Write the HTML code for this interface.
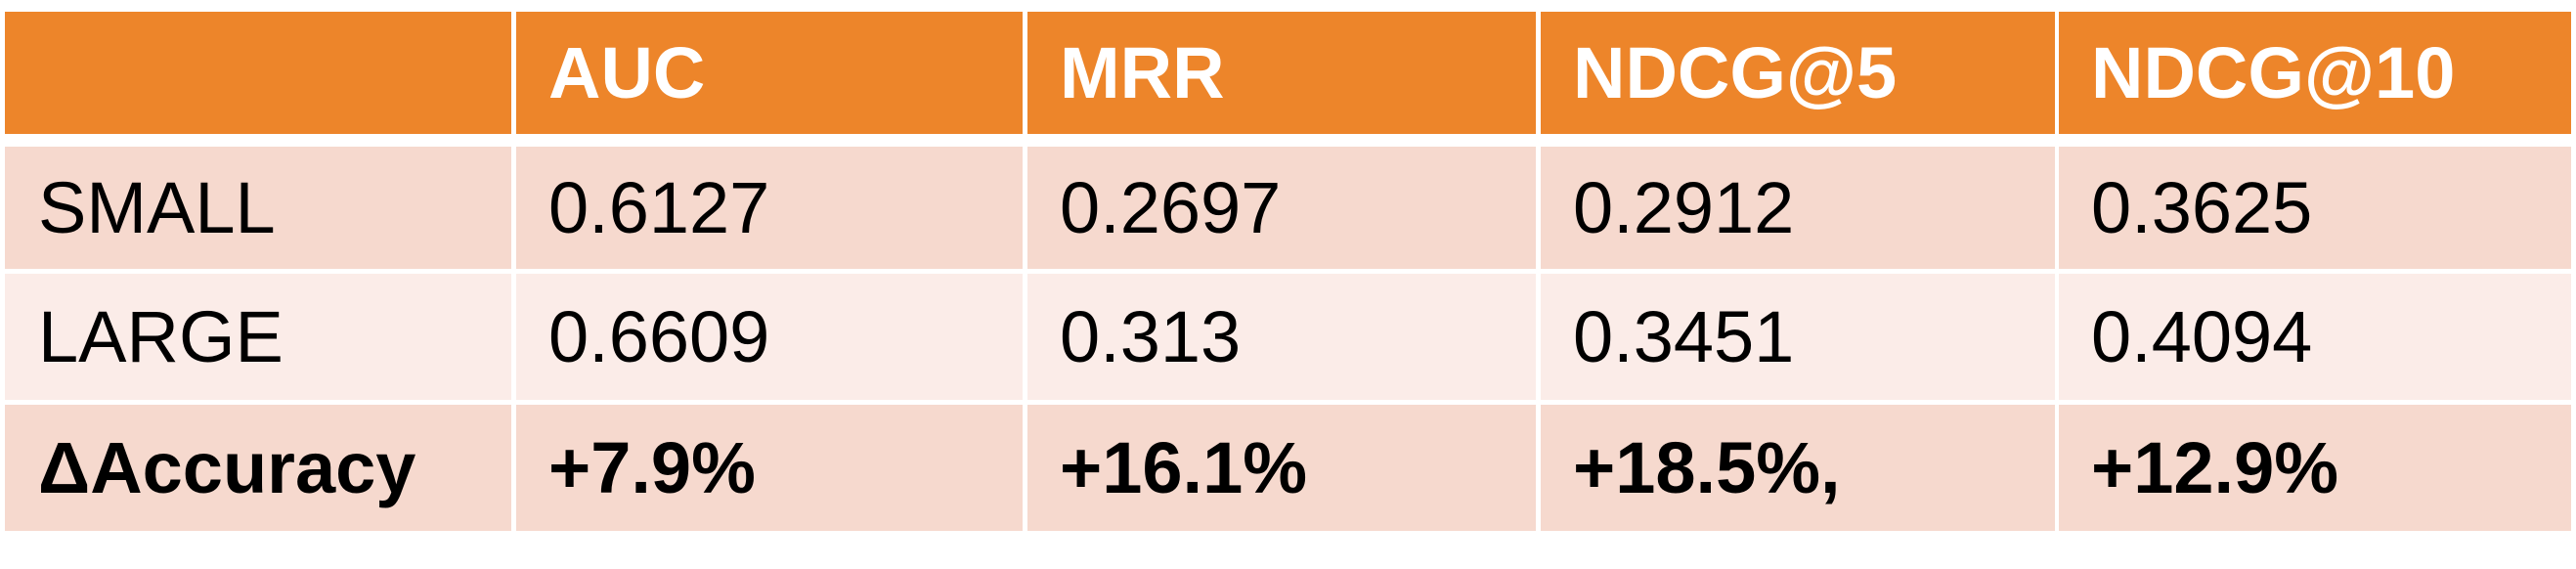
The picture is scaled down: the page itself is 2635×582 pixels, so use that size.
<!DOCTYPE html>
<html><head><meta charset="utf-8"><style>
body{margin:0;width:2635px;height:582px;background:#fff;overflow:hidden;position:relative;font-family:"Liberation Sans",sans-serif}
.c{position:absolute;box-sizing:border-box;padding-left:34px;display:flex;align-items:center;font-size:74px;color:#000;white-space:nowrap}
.h{background:#ED852A;color:#fff;font-weight:bold}
.r1{background:#F6D9CE}
.r2{background:#FBECE8}
.r3{background:#F6D9CE;font-weight:bold}
</style></head><body>
<script>
const cols=[[5,523],[528,1046],[1051,1571],[1576,2102],[2106,2630]];
const rows=[[12,137,'h'],[150,275,'r1'],[280,409,'r2'],[414,543,'r3']];
const headers=['','AUC','MRR','NDCG@5','NDCG@10'];
const small=['SMALL','0.6127','0.2697','0.2912','0.3625'];
const large=['LARGE','0.6609','0.313','0.3451','0.4094'];
const delta=['ΔAccuracy','+7.9%','+16.1%','+18.5%,','+12.9%'];
const data=[headers,small,large,delta];
const names=['header','small','large','delta'];
rows.forEach((r,ri)=>{cols.forEach((c,ci)=>{
const d=document.createElement('div');
d.className='c '+r[2];
d.style.left=c[0]+'px';d.style.width=(c[1]-c[0])+'px';d.style.top=r[0]+'px';d.style.height=(r[1]-r[0])+'px';
d.style.paddingLeft=(ci==0?34:33)+'px';
d.textContent=data[ri][ci];


document.body.appendChild(d);});});
</script>
</body></html>
